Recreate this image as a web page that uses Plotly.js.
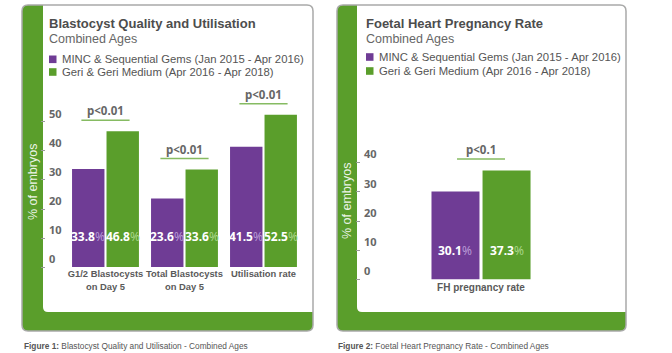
<!DOCTYPE html>
<html>
<head>
<meta charset="utf-8">
<script src="https://cdn.plot.ly/plotly-3.0.1.min.js"></script>
<style>html,body{margin:0;padding:0;background:#fff;}#chart{width:672px;height:353px;}</style>
</head>
<body>
<div id="chart"></div>
<script>
// ---- data ----
const seriesNames = ["MINC & Sequential Gems (Jan 2015 - Apr 2016)", "Geri & Geri Medium (Apr 2016 - Apr 2018)"];
const categoriesLeft = ["G1/2 Blastocysts<br>on Day 5", "Total Blastocysts<br>on Day 5", "Utilisation rate"];
const mincLeft = [33.8, 23.6, 41.5];
const geriLeft = [46.8, 33.6, 52.5];
const pLeft = ["p<0.01", "p<0.01", "p<0.01"];
const categoriesRight = ["FH pregnancy rate"];
const mincRight = [30.1];
const geriRight = [37.3];
const pRight = ["p<0.1"];
const tickValsLeft = [0, 10, 20, 30, 40, 50];
const tickValsRight = [0, 10, 20, 30, 40];
const titleLeft = "Blastocyst Quality and Utilisation";
const titleRight = "Foetal Heart Pregnancy Rate";
const subtitle = "Combined Ages";
const yTitle = "% of embryos";
const captionLeft = ["Figure 1:", "Blastocyst Quality and Utilisation - Combined Ages"];
const captionRight = ["Figure 2:", "Foetal Heart Pregnancy Rate - Combined Ages"];

// ---- styles ----
const W = 672, H = 353;
const PURPLE = "#6f3c95", GREEN = "#5a9e2b";
const PURPLE_PCT = "#b89ad6", GREEN_PCT = "#a9d68a";
const NARROW = "'Noto Sans', sans-serif";
const SANS = "'Liberation Sans', Arial, Helvetica, sans-serif";
const esc = s => s.replace(/&/g, "&amp;").replace(/</g, "&lt;");
const px = x => x / W;
const py = y => 1 - y / H;

function rr(x0, y0, x1, y1, tl, tr, br, bl) {
  const P = (x, y) => px(x).toFixed(5) + "," + py(y).toFixed(5);
  let d = "M" + P(x0 + tl, y0) + " L" + P(x1 - tr, y0);
  if (tr) d += " Q" + P(x1, y0) + " " + P(x1, y0 + tr);
  d += " L" + P(x1, y1 - br);
  if (br) d += " Q" + P(x1, y1) + " " + P(x1 - br, y1);
  d += " L" + P(x0 + bl, y1);
  if (bl) d += " Q" + P(x0, y1) + " " + P(x0, y1 - bl);
  d += " L" + P(x0, y0 + tl);
  if (tl) d += " Q" + P(x0, y0) + " " + P(x0 + tl, y0);
  return d + " Z";
}

const shapes = [];
const annotations = [];
function card(x0, x1, strip) {
  shapes.push({type: "path", xref: "paper", yref: "paper", layer: "below", path: rr(x0, 5, x1, 331, 6, 6, 6, 6), fillcolor: GREEN, line: {width: 0}});
  shapes.push({type: "path", xref: "paper", yref: "paper", layer: "below", path: rr(strip, 5, x1, 312, 0, 6, 0, 5), fillcolor: "#ffffff", line: {width: 0}});
  shapes.push({type: "path", xref: "paper", yref: "paper", layer: "below", path: rr(x0, 5, x1, 331, 6, 6, 6, 6), fillcolor: "rgba(0,0,0,0)", line: {color: "#a9a9a9", width: 1.5}});
}
card(22, 313, 43);
card(337, 626, 357);

function header(x, title, legY) {
  annotations.push({xref: "paper", yref: "paper", x: px(x - 2), y: py(23), xanchor: "left", yanchor: "middle", showarrow: false, text: "<b>" + title + "</b>", font: {family: SANS, size: 13, color: "#4d4d4d"}});
  annotations.push({xref: "paper", yref: "paper", x: px(x - 2), y: py(39), xanchor: "left", yanchor: "middle", showarrow: false, text: subtitle, font: {family: SANS, size: 12.5, color: "#666666"}});
  [PURPLE, GREEN].forEach((c, i) => {
    const cy = legY[i];
    shapes.push({type: "rect", xref: "paper", yref: "paper", layer: "below", x0: px(x), x1: px(x + 7.5), y0: py(cy + 3.8), y1: py(cy - 3.8), fillcolor: c, line: {width: 0}});
    annotations.push({xref: "paper", yref: "paper", x: px(x + 11), y: py(cy), xanchor: "left", yanchor: "middle", showarrow: false, text: esc(seriesNames[i]), font: {family: SANS, size: 11.3, color: "#555555"}});
  });
}
header(49, titleLeft, [59.3, 72]);
header(366, titleRight, [57, 71]);

// y titles (white on green strip)
annotations.push({xref: "paper", yref: "paper", x: px(32.5), y: py(182.5), xanchor: "center", yanchor: "middle", textangle: -90, showarrow: false, text: esc(yTitle), font: {family: SANS, size: 12.5, color: "rgba(255,255,255,0.9)"}});
annotations.push({xref: "paper", yref: "paper", x: px(346.5), y: py(201.5), xanchor: "center", yanchor: "middle", textangle: -90, showarrow: false, text: esc(yTitle), font: {family: SANS, size: 12.5, color: "rgba(255,255,255,0.9)"}});

// captions
annotations.push({xref: "paper", yref: "paper", x: px(22), y: py(346), xanchor: "left", yanchor: "middle", showarrow: false, text: "<b>" + captionLeft[0] + "</b> " + captionLeft[1], font: {family: SANS, size: 8.3, color: "#555555"}});
annotations.push({xref: "paper", yref: "paper", x: px(336), y: py(346), xanchor: "left", yanchor: "middle", showarrow: false, text: "<b>" + captionRight[0] + "</b> " + captionRight[1], font: {family: SANS, size: 8.3, color: "#555555"}});

// value labels + p-value markers
function valueLabels(xa, ya, cats, a, b, off, yv) {
  cats.forEach((c, i) => {
    [[a[i], -off, PURPLE_PCT], [b[i], off, GREEN_PCT]].forEach(([v, s, pc]) => {
      annotations.push({xref: xa, yref: ya, x: c, y: yv, xshift: s, showarrow: false, yanchor: "middle",
        text: "<b>" + v.toFixed(1) + "</b><span style='color:" + pc + "'>%</span>",
        font: {family: NARROW, size: 12, color: "#ffffff"}});
    });
  });
}
function pMarks(xa, ya, cats, a, b, labels, half, gap) {
  cats.forEach((c, i) => {
    const top = Math.max(a[i], b[i]) + gap;
    shapes.push({type: "line", xref: xa, yref: ya, x0: i - half, x1: i + half, y0: top, y1: top, line: {color: "#86bb62", width: 1.5}});
    annotations.push({xref: xa, yref: ya, x: c, y: top, yanchor: "bottom", yshift: 0, showarrow: false, text: "<b>" + esc(labels[i]) + "</b>", font: {family: NARROW, size: 11.5, color: "#666666"}});
  });
}
valueLabels("x", "y", categoriesLeft, mincLeft, geriLeft, 17.5, 10.4);
valueLabels("x2", "y2", categoriesRight, mincRight, geriRight, 26, 9.9);
pMarks("x", "y", categoriesLeft, mincLeft, geriLeft, pLeft, 0.305, 3.8);
pMarks("x2", "y2", categoriesRight, mincRight, geriRight, pRight, 0.205, 4.0);

const traces = [
  {type: "bar", x: categoriesLeft, y: mincLeft, name: seriesNames[0], marker: {color: PURPLE}, xaxis: "x", yaxis: "y", hoverinfo: "skip"},
  {type: "bar", x: categoriesLeft, y: geriLeft, name: seriesNames[1], marker: {color: GREEN}, xaxis: "x", yaxis: "y", hoverinfo: "skip"},
  {type: "bar", x: categoriesRight, y: mincRight, name: seriesNames[0], marker: {color: PURPLE}, xaxis: "x2", yaxis: "y2", hoverinfo: "skip"},
  {type: "bar", x: categoriesRight, y: geriRight, name: seriesNames[1], marker: {color: GREEN}, xaxis: "x2", yaxis: "y2", hoverinfo: "skip"}
];

const xCommon = {type: "category", showgrid: false, zeroline: false, showline: false, ticks: "", fixedrange: true, tickangle: 0,
  tickfont: {family: SANS, size: 9.4, color: "#5a5a5a", weight: "bold"}};
const yCommon = {showgrid: false, zeroline: false, showline: false, ticks: "outside", ticklen: 4, tickcolor: "#9a9a9a", tickwidth: 1,
  ticklabelposition: "inside top", tickfont: {family: NARROW, size: 11, color: "#666666", weight: "bold"}, fixedrange: true};

const layout = {
  width: W, height: H,
  margin: {l: 0, r: 0, t: 0, b: 0},
  paper_bgcolor: "#ffffff", plot_bgcolor: "rgba(0,0,0,0)",
  showlegend: false, barmode: "group", bargap: 0.127, bargroupgap: 0.06,
  xaxis: Object.assign({}, xCommon, {domain: [px(46), px(312)], range: [-0.753, 2.614], anchor: "y"}),
  yaxis: Object.assign({}, yCommon, {domain: [py(267), py(88)], range: [0, 61.72], tickvals: tickValsLeft, anchor: "x"}),
  xaxis2: Object.assign({}, xCommon, {domain: [px(361), px(625)], range: [-1.026, 1.231], anchor: "y2", tickfont: {family: SANS, size: 10, color: "#5a5a5a", weight: "bold"}}),
  yaxis2: Object.assign({}, yCommon, {domain: [py(279.5), py(140)], range: [0, 47.77], tickvals: tickValsRight, anchor: "x2"}),
  shapes: shapes, annotations: annotations
};
Plotly.newPlot("chart", traces, layout, {displayModeBar: false, staticPlot: true});
</script>
</body>
</html>
